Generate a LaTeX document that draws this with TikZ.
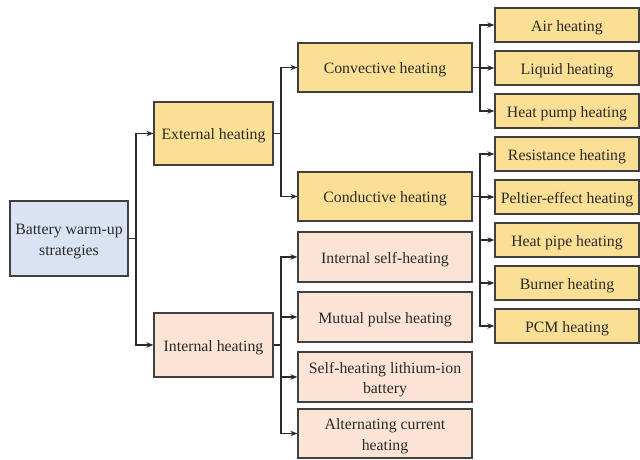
\documentclass[tikz,border=0pt]{standalone}
\usepackage{fontspec}
\setmainfont{Liberation Serif}
\usetikzlibrary{arrows.meta}
\definecolor{ylw}{HTML}{FBDF95}
\definecolor{blu}{HTML}{DAE3F3}
\definecolor{pch}{HTML}{FBE4D5}
\definecolor{edge}{HTML}{404040}
\definecolor{txt}{HTML}{2A2A2A}
\newcommand{\tx}[1]{\raisebox{-2.2pt}[\height][\depth]{\begin{tabular}{@{}c@{}}#1\end{tabular}}}
\begin{document}
\begin{tikzpicture}[x=1pt,y=-1pt,
  box/.style={draw=edge,line width=1.3pt,inner sep=0pt,align=center,text=txt,
    font=\fontsize{15.8}{20.5}\selectfont},
  yb/.style={box,fill=ylw},
  pb/.style={box,fill=pch},
  bb/.style={box,fill=blu},
  lvl3/.style={yb,minimum width=144pt,minimum height=34pt},
  lvl2/.style={minimum width=174pt,minimum height=49pt},
  arr/.style={draw=txt,line width=1.3pt,-{Stealth[length=7pt,width=5.5pt]}},
  ln/.style={draw=txt,line width=1.3pt}]
\useasboundingbox (0,0) rectangle (640,459);
\node[bb,minimum width=118pt,minimum height=75pt] (root) at (69,238.5) {\tx{Battery warm-up\\strategies}};
\node[yb,minimum width=119pt,minimum height=63pt] (ext) at (213.5,133.5) {\tx{External heating}};
\node[pb,minimum width=119pt,minimum height=64pt] (int) at (213.5,345) {\tx{Internal heating}};
\node[yb,lvl2] (conv) at (385,67.5) {\tx{Convective heating}};
\node[yb,lvl2] (cond) at (385,196.5) {\tx{Conductive heating}};
\node[pb,lvl2,minimum height=50pt] (ish) at (385,257) {\tx{Internal self-heating}};
\node[pb,lvl2,minimum height=50pt] (mph) at (385,317) {\tx{Mutual pulse heating}};
\node[pb,lvl2,minimum height=50pt] (shl) at (385,377) {\tx{Self-heating lithium-ion\\battery}};
\node[pb,lvl2,minimum height=49pt] (ach) at (385,433.5) {\tx{Alternating current\\heating}};
\node[lvl3] (air) at (567,25) {\tx{Air heating}};
\node[lvl3] (liq) at (567,68) {\tx{Liquid heating}};
\node[lvl3] (hph) at (567,111) {\tx{Heat pump heating}};
\node[lvl3] (res) at (567,154) {\tx{Resistance heating}};
\node[lvl3] (pel) at (567,197) {\tx{Peltier-effect heating}};
\node[lvl3] (hpi) at (567,240) {\tx{Heat pipe heating}};
\node[lvl3] (bur) at (567,283) {\tx{Burner heating}};
\node[lvl3] (pcm) at (567,326) {\tx{PCM heating}};
% connectors
\coordinate (j0) at (136,238.5);
\coordinate (j1) at (281,133.5);
\coordinate (j2) at (281,345);
\coordinate (j3) at (480,67.5);
\coordinate (j4) at (480,196.5);
\draw[ln] (root.east) -- (j0);
\draw[arr] (j0) |- (ext.west);
\draw[arr] (j0) |- (int.west);
\draw[ln] (ext.east) -- (j1);
\draw[arr] (j1) |- (conv.west);
\draw[arr] (j1) |- (cond.west);
\draw[ln] (int.east) -- (j2);
\draw[arr] (j2) |- (ish.west);
\draw[arr] (j2) |- (mph.west);
\draw[arr] (j2) |- (shl.west);
\draw[arr] (j2) |- (ach.west);
\draw[ln] (conv.east) -- (j3);
\draw[arr] (j3) |- (air.west);
\draw[arr] (j3) |- (liq.west);
\draw[arr] (j3) |- (hph.west);
\draw[ln] (cond.east) -- (j4);
\draw[arr] (j4) |- (res.west);
\draw[arr] (j4) |- (pel.west);
\draw[arr] (j4) |- (hpi.west);
\draw[arr] (j4) |- (bur.west);
\draw[arr] (j4) |- (pcm.west);
\end{tikzpicture}
\end{document}
